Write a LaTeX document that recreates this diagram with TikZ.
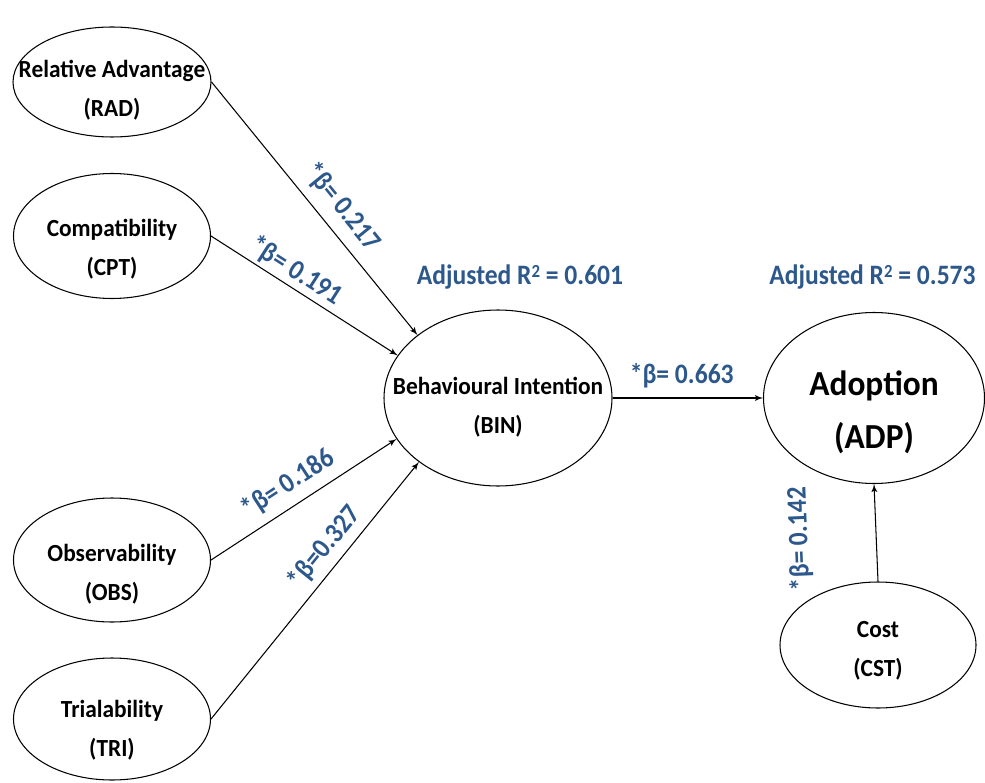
\documentclass[tikz,border=0pt]{standalone}
\usepackage{fontspec}
\setmainfont{Carlito}[FakeStretch=0.95]
\newfontfamily\coeffont{Carlito}[FakeStretch=0.91]
\usetikzlibrary{arrows}
\usetikzlibrary{shapes.geometric}
\definecolor{coefblue}{RGB}{44,88,140}
\newcommand{\rsq}{R\raisebox{3.8pt}{\fontsize{10.5}{12}\selectfont 2}}

\begin{document}
\begin{tikzpicture}[>= latex', line width=0.6pt,
    cons/.style = {ellipse, draw, inner sep=0pt},
    constxt/.style = {font=\fontsize{14}{22}\selectfont\bfseries, align=center},
    coef/.style = {font=\coeffont\fontsize{16}{19}\selectfont\bfseries, text=coefblue, inner sep=1pt, sloped}]
         \useasboundingbox (0,0) rectangle (19.7,15.64);
         % constructs
         \node[cons, minimum width=3.96cm, minimum height=2.2cm] (rad) at (2.24,14.0) {};
         \node[cons, minimum width=3.94cm, minimum height=2.5cm] (cpt) at (2.24,10.92) {};
         \node[cons, minimum width=3.94cm, minimum height=2.48cm] (obs) at (2.24,4.44) {};
         \node[cons, minimum width=3.94cm, minimum height=2.44cm] (tri) at (2.24,1.26) {};
         \node[cons, minimum width=4.56cm, minimum height=3.52cm] (bin) at (9.96,7.68) {};
         \node[cons, minimum width=4.42cm, minimum height=3.42cm] (adp) at (17.48,7.68) {};
         \node[cons, minimum width=3.92cm, minimum height=2.52cm] (cst) at (17.56,2.74) {};
         \node[constxt] (radtxt) at (2.24,13.84) {Relative Advantage\\(RAD)};
         \node[constxt] (cpttxt) at (2.24,10.66) {Compatibility\\(CPT)};
         \node[constxt] (obstxt) at (2.24,4.16) {Observability\\(OBS)};
         \node[constxt] (tritxt) at (2.24,1.04) {Trialability\\(TRI)};
         \node[constxt] (bintxt) at (9.96,7.50) {Behavioural Intention\\(BIN)};
         \node[constxt, font=\fontsize{20}{30}\selectfont\bfseries] (adptxt) at (17.48,7.40) {Adoption\\(ADP)};
         \node[constxt] (csttxt) at (17.56,2.62) {Cost\\(CST)};
         % R squared
         \node[coef] (binr2) at (10.4,10.1) {Adjusted \rsq{} = 0.601};
         \node[coef] (adpr2) at (17.45,10.1) {Adjusted \rsq{} = 0.573};
         % paths
         \draw[->] (rad.east) -- (bin.142) node[coef, pos=0.55, above=0.16cm] {*β= 0.217};
         \draw[->] (cpt.east) -- (bin.157) node[coef, pos=0.41, above=0.03cm] {*β= 0.191};
         \draw[->] (obs.east) -- (bin.202) node[coef, pos=0.48, above=0.14cm] {*β= 0.186};
         \draw[->] (tri.east) -- (bin.219) node[coef, pos=0.62, above=0.1cm] {*β=0.327};
         \draw[->] (bin.east) -- (adp.west) node[coef, pos=0.46, above=0.16cm] {*β= 0.663};
         \draw[->] (cst.north) -- (adp.south) node[coef, allow upside down, pos=0.47, above=1.24cm] {*β= 0.142};
\end{tikzpicture}
\end{document}
